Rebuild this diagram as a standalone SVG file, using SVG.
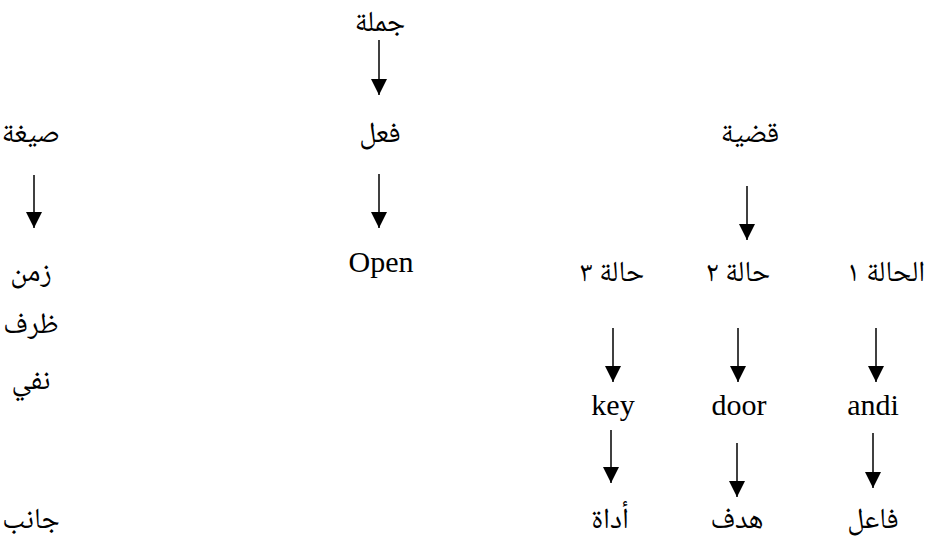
<svg xmlns="http://www.w3.org/2000/svg" width="936" height="547" viewBox="0 0 936 547">
<style>
.t{font-family:"Liberation Serif","Times New Roman",serif;font-size:30px;fill:#000;text-anchor:middle}
.ar{font-family:"Noto Naskh Arabic","Amiri","Liberation Serif","DejaVu Sans",serif;font-size:29px;fill:#000;text-anchor:middle}
.c line{stroke:#000;stroke-width:1.5;marker-end:url(#ah)}
</style>
<defs>
<marker id="ah" markerUnits="userSpaceOnUse" markerWidth="16" markerHeight="16" viewBox="0 0 16 16" refX="16" refY="8" orient="auto">
<path d="M0,0 L16,8 L0,16 Z" fill="#000"/>
</marker>
</defs>
<g id="jumla"><text class="ar" x="380" y="31" direction="rtl">جملة</text></g>
<g id="fil"><text class="ar" x="380" y="142" direction="rtl">فعل</text></g>
<g id="sigha"><text class="ar" x="31" y="142" direction="rtl">صيغة</text></g>
<g id="qadiya"><text class="ar" x="750" y="142" direction="rtl">قضية</text></g>
<g id="open"><text class="t" x="381" y="272">Open</text></g>
<g id="zaman"><text class="ar" x="31" y="281" direction="rtl">زمن</text></g>
<g id="hala1"><text class="ar" x="886" y="281" direction="rtl">الحالة ١</text></g>
<g id="hala2"><text class="ar" x="738" y="281" direction="rtl">حالة ٢</text></g>
<g id="hala3"><text class="ar" x="612" y="281" direction="rtl">حالة ٣</text></g>
<g id="zarf"><text class="ar" x="31" y="333" direction="rtl">ظرف</text></g>
<g id="nafy"><text class="ar" x="31" y="389" direction="rtl">نفي</text></g>
<g id="key"><text class="t" x="613" y="415">key</text></g>
<g id="door"><text class="t" x="739" y="415">door</text></g>
<g id="andi"><text class="t" x="873" y="415">andi</text></g>
<g id="janib"><text class="ar" x="31" y="528" direction="rtl">جانب</text></g>
<g id="adat"><text class="ar" x="610" y="528" direction="rtl">أداة</text></g>
<g id="hadaf"><text class="ar" x="737" y="528" direction="rtl">هدف</text></g>
<g id="fail"><text class="ar" x="873" y="528" direction="rtl">فاعل</text></g>
<g id="connectors" class="c">
<line x1="379" y1="40" x2="379" y2="95"/>
<line x1="379" y1="174" x2="379" y2="228"/>
<line x1="34" y1="175" x2="34" y2="228"/>
<line x1="747" y1="186" x2="747" y2="240"/>
<line x1="613" y1="328" x2="613" y2="382"/>
<line x1="738" y1="328" x2="738" y2="382"/>
<line x1="876" y1="328" x2="876" y2="382"/>
<line x1="611" y1="430" x2="611" y2="483"/>
<line x1="737" y1="443" x2="737" y2="497"/>
<line x1="873" y1="433" x2="873" y2="488"/>
</g>
</svg>
